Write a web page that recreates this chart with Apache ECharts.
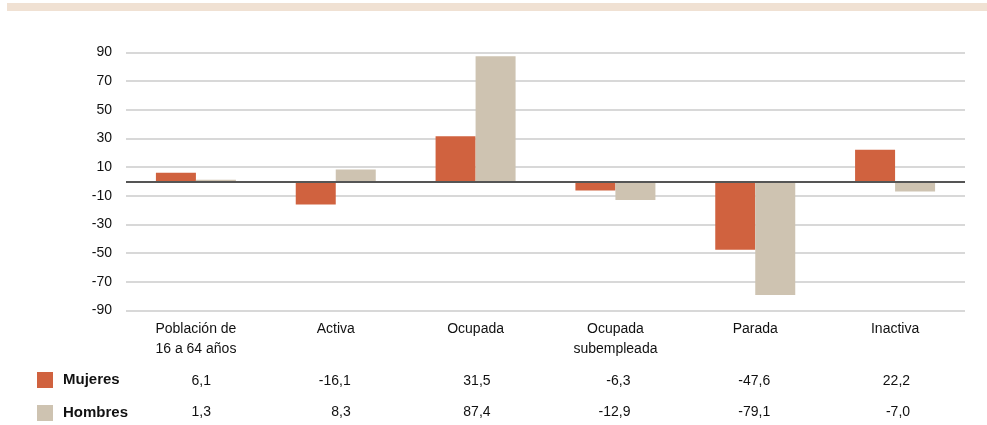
<!DOCTYPE html>
<html>
<head>
<meta charset="utf-8">
<script src="https://cdn.jsdelivr.net/npm/echarts@6/dist/echarts.min.js"></script>
<style>
  html, body { margin: 0; padding: 0; background: #fff; }
  #chart { width: 987px; height: 425px; }
</style>
</head>
<body>
<div id="chart"></div>
<script>
var categories = ['Población de\n16 a 64 años', 'Activa', 'Ocupada', 'Ocupada\nsubempleada', 'Parada', 'Inactiva'];
var seriesNames = ['Mujeres', 'Hombres'];
var mujeres = [6.1, -16.1, 31.5, -6.3, -47.6, 22.2];
var hombres = [1.3, 8.3, 87.4, -12.9, -79.1, -7.0];
var yMin = -90, yMax = 90, yStep = 20;

var FONT = '"Liberation Sans", Arial, sans-serif';
var chart = echarts.init(document.getElementById('chart'), null, { renderer: 'canvas' });

function fmt(v) { return v.toFixed(1).replace('.', ','); }

var option = {
  animation: false,
  backgroundColor: '#ffffff',
  grid: { left: 126, right: 22, top: 52.5, bottom: 114.5, containLabel: false },
  legend: {
    orient: 'vertical',
    left: 37, top: 372,
    padding: 0,
    itemWidth: 16, itemHeight: 16, itemGap: 17,
    icon: 'rect',
    selectedMode: false,
    data: seriesNames,
    textStyle: { fontFamily: FONT, fontSize: 15, fontWeight: 'bold', color: '#111', padding: [0, 0, 0, 5] }
  },
  xAxis: {
    type: 'category',
    data: categories,
    axisLine: { show: false, onZero: false },
    axisTick: { show: false },
    splitLine: { show: false },
    axisLabel: { fontFamily: FONT, fontSize: 14, color: '#111', lineHeight: 20, margin: 9, interval: 0 }
  },
  yAxis: {
    type: 'value',
    min: yMin, max: yMax, interval: yStep,
    axisLine: { show: false },
    axisTick: { show: false },
    axisLabel: { fontFamily: FONT, fontSize: 14, color: '#111', margin: 14 },
    splitLine: { lineStyle: { color: '#d8d8d8', width: 2 } }
  },
  series: [
    {
      name: seriesNames[0], type: 'bar', data: mujeres,
      barWidth: 40, barGap: '0%',
      itemStyle: { color: '#D0623F' },
      markLine: {
        silent: true, symbol: 'none', label: { show: false },
        lineStyle: { color: '#555555', width: 2, type: 'solid' },
        data: [{ yAxis: 0 }]
      },
      z: 2
    },
    {
      name: seriesNames[1], type: 'bar', data: hombres,
      barWidth: 40, barGap: '0%',
      itemStyle: { color: '#CEC3B1' },
      z: 2
    }
  ]
};
chart.setOption(option);

var g = [{
  type: 'rect', left: 7, top: 3, shape: { width: 980, height: 8 },
  style: { fill: '#F0E1D3' }, silent: true
}];
var rows = [mujeres, hombres];
var rowY = [381, 412];
for (var r = 0; r < rows.length; r++) {
  for (var i = 0; i < categories.length; i++) {
    var px = chart.convertToPixel({ xAxisIndex: 0 }, i);
    g.push({
      type: 'text', x: px + 15, y: rowY[r],
      style: { text: fmt(rows[r][i]), fontFamily: FONT, fontSize: 14, fill: '#111', align: 'right', verticalAlign: 'middle' },
      silent: true
    });
  }
}
chart.setOption({ graphic: g });
</script>
</body>
</html>
